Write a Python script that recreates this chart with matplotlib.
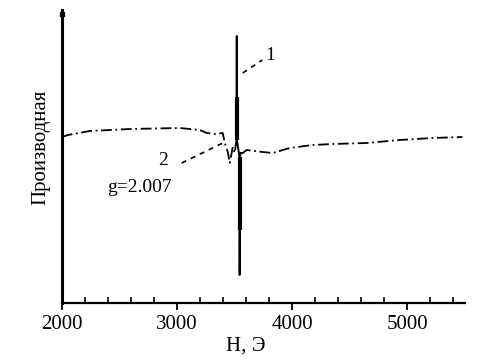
import matplotlib
matplotlib.use('Agg')
import matplotlib.pyplot as plt
from matplotlib.ticker import MultipleLocator

plt.rcParams['font.family'] = ['Liberation Serif', 'DejaVu Serif']

# broad line (2), field in Oe, intensity in arbitrary units
h_broad = [2000, 2052, 2243, 2590, 3023, 3197, 3258, 3327, 3396, 3414, 3440,
           3457, 3483, 3500, 3509]
i_broad = [166, 168, 172, 174, 175, 173, 170, 169, 170, 160, 151, 140, 156,
           150, 158]
h_broad2 = [3552, 3570, 3604, 3743, 3830, 3977, 4177, 4350, 4645, 4931, 5218, 5478]
i_broad2 = [150, 150, 153, 151, 150, 155, 158, 159, 160, 163, 165, 166]

# narrow line (1)
h_narrow = [3509, 3516, 3518, 3520, 3541, 3543, 3546, 3552]
i_narrow = [158, 163, 267, 163, 146, 28, 146, 150]
# thicker parts of the narrow signal
h_thick = [3518, 3544]
i_thick_lo = [163, 73]
i_thick_hi = [206, 146]

fig = plt.figure(figsize=(4.97, 3.64), dpi=100)
ax = fig.add_axes([0.1247, 0.1676, 0.8109, 0.8049])

ls = (0, (6, 2, 1, 2))
ax.plot(h_broad, i_broad, color='black', lw=1.3, linestyle=ls)
ax.plot(h_broad2, i_broad2, color='black', lw=1.3, linestyle=ls)
ax.plot(h_narrow, i_narrow, color='black', lw=1.4)
ax.vlines(h_thick, i_thick_lo, i_thick_hi, color='black', lw=3)

# labels
ax.plot([3570, 3740], [230, 243], color='black', lw=1.2, linestyle=(0, (3, 3)))
ax.text(3810, 248, '1', fontsize=14, ha='center', va='center')
ax.plot([3040, 3396], [140, 160], color='black', lw=1.2, linestyle=(0, (3, 3)))
ax.text(2880, 143, '2', fontsize=14, ha='center', va='center')
ax.text(2390, 116, 'g=2.007', fontsize=14, ha='left', va='center')

ax.set_xlim(2000, 5500)
ax.set_ylim(0, 293)
ax.xaxis.set_major_locator(MultipleLocator(1000))
ax.xaxis.set_minor_locator(MultipleLocator(200))
ax.tick_params(axis='x', which='major', direction='out', length=5, width=1.3,
               labelsize=15, pad=4)
ax.tick_params(axis='x', which='minor', direction='in', length=4, width=1.2)
ax.set_yticks([])

for s in ['top', 'right']:
    ax.spines[s].set_visible(False)
ax.spines['left'].set_linewidth(2.2)
ax.spines['bottom'].set_linewidth(1.6)
ax.plot(0, 0.985, marker='s', color='black', ms=3.5, transform=ax.transAxes,
        clip_on=False)

ax.set_xlabel('H, Э', fontsize=15)
ax.xaxis.set_label_coords(0.455, -0.115)
ax.set_ylabel('Производная', fontsize=15)
ax.yaxis.set_label_coords(-0.03, 0.53)

fig.savefig('out.png', dpi=100)
